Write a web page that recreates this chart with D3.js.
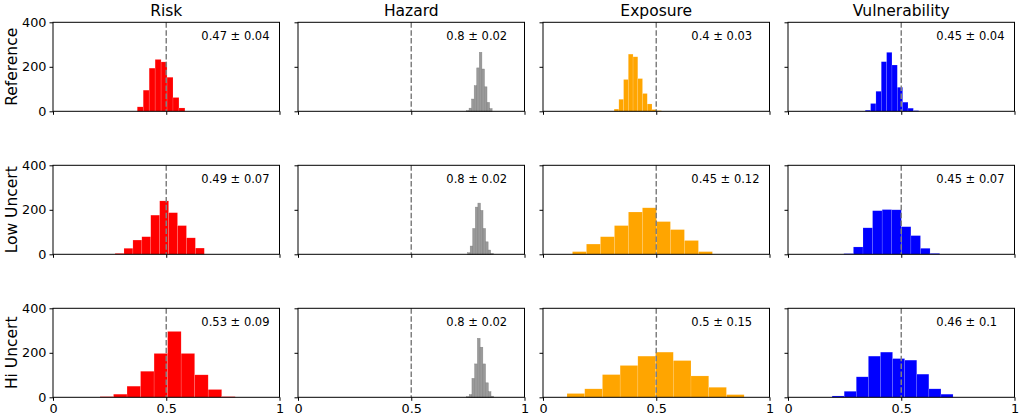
<!DOCTYPE html>
<html><head><meta charset="utf-8">
<script src="https://cdn.jsdelivr.net/npm/d3@7"></script>
<style>
html,body{margin:0;padding:0;background:#fff;}
svg{display:block;font-family:"DejaVu Sans",sans-serif;}
</style></head>
<body>
<svg id="chart" width="1021" height="418"></svg>
<script>
// ---- data ----
const rowNames = ["Reference", "Low Uncert", "Hi Uncert"];
const colNames = ["Risk", "Hazard", "Exposure", "Vulnerability"];
const colColors = ["#ff0000", "#9a9a9a", "#ffa500", "#0000ff"];
const xTicks = [0, 0.5, 1];
const yTicks = [0, 200, 400];
const threshold = 0.5;

// histogram bins: [first bin start, bin width] per row
const riskBins = [[0.372, 0.0263], [0.274, 0.0394], [0.2075, 0.0597]];
const riskCounts = [
  [20, 95, 194, 233, 222, 153, 62, 15],
  [4, 27, 64, 79, 176, 240, 187, 129, 74, 28],
  [3, 14, 50, 117, 197, 296, 197, 101, 35, 3]
];
const riskLabels = ["0.47 ± 0.04", "0.49 ± 0.07", "0.53 ± 0.09"];

const hazardBins = [[0.744, 0.0113], [0.749, 0.0113], [0.744, 0.012]];
const hazardCounts = [
  [3, 14, 55, 115, 195, 265, 190, 110, 40, 12],
  [7, 37, 116, 212, 230, 197, 116, 56, 19, 4],
  [3, 12, 85, 150, 265, 225, 150, 65, 25, 5]
];
const hazardLabels = ["0.8 ± 0.02", "0.8 ± 0.02", "0.8 ± 0.02"];

const exposureBins = [[0.314, 0.0209], [0.130, 0.0618], [0.106, 0.0782]];
const exposureCounts = [
  [10, 54, 143, 257, 245, 147, 80, 33, 8, 3],
  [12, 46, 79, 129, 190, 209, 147, 111, 62, 12],
  [17, 38, 102, 143, 185, 203, 165, 96, 45, 12]
];
const exposureLabels = ["0.4 ± 0.03", "0.45 ± 0.12", "0.5 ± 0.15"];

const vulnBins = [[0.341, 0.0236], [0.2465, 0.0423], [0.1947, 0.0534]];
const vulnCounts = [
  [5, 35, 90, 223, 265, 208, 108, 41, 14, 3],
  [3, 33, 119, 196, 201, 200, 124, 84, 27, 4],
  [6, 27, 92, 185, 203, 174, 167, 104, 38, 14]
];
const vulnLabels = ["0.45 ± 0.04", "0.45 ± 0.07", "0.46 ± 0.1"];

const allBins = [riskBins, hazardBins, exposureBins, vulnBins];
const allCounts = [riskCounts, hazardCounts, exposureCounts, vulnCounts];
const allLabels = [riskLabels, hazardLabels, exposureLabels, vulnLabels];

// ---- layout ----
const left0 = 53, colStep = 245, pw = 226.5;
const top0 = 22.3, rowStep = 143, ph = 89;

const svg = d3.select("#chart");
const x = d3.scaleLinear().domain([0, 1]).range([0, pw]);
const y = d3.scaleLinear().domain([0, 400]).range([ph, 0]);

rowNames.forEach((rn, r) => {
  colNames.forEach((cn, c) => {
    const g = svg.append("g")
      .attr("transform", `translate(${left0 + c * colStep},${top0 + r * rowStep})`);
    const [start, w] = allBins[c][r];
    const counts = allCounts[c][r];
    const bars = counts.map((v, i) => ({x0: start + i * w, x1: start + (i + 1) * w, v}));
    g.selectAll("rect.bar").data(bars).enter().append("rect")
      .attr("class", "bar")
      .attr("x", d => x(d.x0))
      .attr("width", d => x(d.x1) - x(d.x0))
      .attr("y", d => y(d.v))
      .attr("height", d => y(0) - y(d.v))
      .attr("fill", colColors[c])
      .attr("stroke", c === 1 ? "#7a7a7a" : "#ffffff")
      .attr("stroke-opacity", c === 1 ? 0.8 : 0.25)
      .attr("stroke-width", 0.5);

    // threshold line
    g.append("line")
      .attr("x1", x(threshold)).attr("x2", x(threshold))
      .attr("y1", 0).attr("y2", ph)
      .attr("stroke", "#808080").attr("stroke-width", 1.5)
      .attr("stroke-dasharray", "5.5,2.4");

    // axes
    const xa = d3.axisBottom(x).tickValues(xTicks).tickSize(3.5).tickPadding(3)
      .tickFormat(r === rowNames.length - 1 ? d3.format("") : () => "");
    const ya = d3.axisLeft(y).tickValues(yTicks).tickSize(3.5).tickPadding(3)
      .tickFormat(c === 0 ? d3.format("") : () => "");
    const gx = g.append("g").attr("transform", `translate(0,${ph})`).call(xa);
    const gy = g.append("g").call(ya);
    [gx, gy].forEach(a => {
      a.select(".domain").remove();
      a.selectAll("line").attr("stroke", "#000").attr("stroke-width", 1);
      a.selectAll("text").attr("font-size", 12.8).attr("fill", "#000")
        .attr("font-family", "DejaVu Sans, sans-serif");
    });

    // frame
    g.append("rect").attr("x", 0).attr("y", 0).attr("width", pw).attr("height", ph)
      .attr("fill", "none").attr("stroke", "#000").attr("stroke-width", 1);

    // annotation
    g.append("text")
      .attr("x", pw * 0.655).attr("y", ph * 0.2)
      .attr("font-size", 11.5).attr("fill", "#000")
      .text(allLabels[c][r]);

    if (r === 0) {
      g.append("text").attr("x", pw / 2).attr("y", -6.5)
        .attr("text-anchor", "middle").attr("font-size", 15.5)
        .text(cn);
    }
    if (c === 0) {
      g.append("text")
        .attr("transform", `translate(${17 - left0},${ph / 2}) rotate(-90)`)
        .attr("text-anchor", "middle").attr("font-size", 15.5)
        .text(rn);
    }
  });
});
</script>
</body></html>
